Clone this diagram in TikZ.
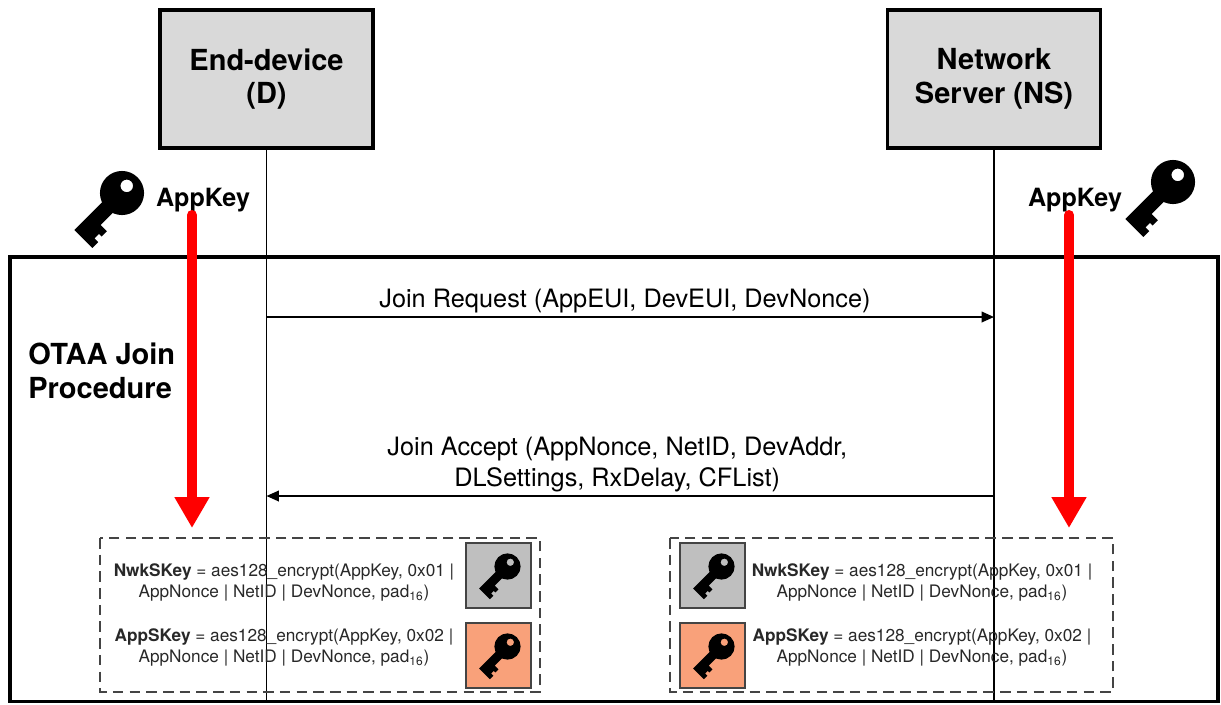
\documentclass[tikz,border=0pt]{standalone}
\usepackage{fontspec}
\setmainfont{TeX Gyre Heros}
\usetikzlibrary{arrows.meta,positioning}
\definecolor{boxgray}{RGB}{217,217,217}
\definecolor{keygray}{RGB}{191,191,191}
\definecolor{keyorange}{RGB}{249,161,122}
\definecolor{appred}{RGB}{255,0,0}
\definecolor{dashgray}{RGB}{68,68,68}
\definecolor{formulagray}{RGB}{40,40,40}
\tikzset{
    party/.style={draw,line width=2pt,fill=boxgray,minimum width=4.26cm,minimum height=2.76cm,
        align=center,font=\fontsize{16.5}{19}\selectfont\bfseries},
    lifeline/.style={line width=1pt},
    msg/.style={line width=1pt,-{Triangle[length=7pt,width=6pt]}},
    msglabel/.style={font=\fontsize{14.4}{17.5}\selectfont,align=center,inner sep=1pt},
    keyflow/.style={appred,line width=5.7pt,line cap=round,-{Triangle[length=17.6pt,width=18.8pt]}},
    keylabel/.style={font=\fontsize{14.3}{17}\selectfont\bfseries},
    derivebox/.style={draw=dashgray,line width=1.1pt,dash pattern=on 6pt off 3.5pt},
    formula/.style={font=\fontsize{9.8}{12}\selectfont,align=center,text=formulagray},
    keytile/.style={draw=dashgray,line width=1.1pt,minimum size=1.3cm,inner sep=0pt},
    keyglyph/.pic={
        \begin{scope}[rotate=45]
            \fill (-0.7,0.36) -- (-2.85,0.36) -- (-2.85,-0.85) -- (-2.45,-0.85) -- (-2.45,-0.6)
                -- (-2.15,-0.6) -- (-2.15,-0.78) -- (-1.8,-0.78) -- (-1.8,-0.36) -- (-0.7,-0.36) -- cycle;
            \fill[even odd rule] (0,0) circle (1.05) (0.4,0.08) circle (0.3);
        \end{scope}
    }
}
\begin{document}
\begin{tikzpicture}
        \useasboundingbox (0,0) rectangle (24.42,-14.08);
        %% parties
        \node[party] (dev) at (5.33,-1.58) {End-device\\(D)};
        \node[party] (ns) at (19.88,-1.58) {Network\\Server (NS)};
        \coordinate (dev-end) at (5.33,-14.03);
        \coordinate (ns-end) at (19.88,-14.03);
        %% procedure frame
        \draw[line width=2pt] (0.2,-5.14) rectangle (24.36,-14.03);
        \node[anchor=west,align=left,inner sep=0pt,font=\fontsize{16.5}{19}\selectfont\bfseries]
            (otaa) at (0.56,-7.42) {OTAA Join\\Procedure};
        %% lifelines
        \draw[lifeline] (dev.south) -- (dev-end);
        \draw[lifeline] (ns.south) -- (ns-end);
        %% messages
        \coordinate (req-dev) at (5.33,-6.34);
        \coordinate (req-ns) at (19.88,-6.34);
        \coordinate (acc-ns) at (19.88,-9.92);
        \coordinate (acc-dev) at (5.33,-9.92);
        \draw[msg] (req-dev) -- node[msglabel,above=1pt,xshift=-3pt] {Join Request (AppEUI, DevEUI, DevNonce)} (req-ns);
        \draw[msg] (acc-ns) -- node[msglabel,above=1pt,xshift=-0.26cm] {Join Accept (AppNonce, NetID, DevAddr,\\DLSettings, RxDelay, CFList)} (acc-dev);
        %% root keys
        \node[keylabel] (appkey-dev) at (4.06,-4.0) {AppKey};
        \node[keylabel] (appkey-ns) at (21.5,-4.0) {AppKey};
        \pic[scale=0.42] at (2.44,-3.86) {keyglyph};
        \pic[scale=0.42] at (23.46,-3.64) {keyglyph};
        %% session key derivation
        \draw[derivebox] (2.0,-10.76) rectangle (10.8,-13.84);
        \draw[derivebox] (13.4,-10.76) rectangle (22.26,-13.84);
        \foreach \x/\y/\col/\name in {9.97/-11.51/keygray/nwk-dev,9.97/-13.11/keyorange/app-dev,
                14.25/-11.51/keygray/nwk-ns,14.25/-13.11/keyorange/app-ns} {
            \node[keytile,fill=\col] (\name) at (\x,\y) {};
            \pic[scale=0.25] at ([shift={(0.18,0.18)}]\name.center) {keyglyph};
        }
        \foreach \x/\side in {5.68/dev,18.44/ns} {
            \node[formula] (nwk-\side-f) at (\x,-11.65) {\textbf{NwkSKey} = aes128\_encrypt(AppKey, 0x01 |\\AppNonce | NetID | DevNonce, pad\textsubscript{16})};
            \node[formula] (app-\side-f) at (\x,-12.95) {\textbf{AppSKey} = aes128\_encrypt(AppKey, 0x02 |\\AppNonce | NetID | DevNonce, pad\textsubscript{16})};
        }
        %% key flow
        \coordinate (flow-dev-top) at (3.84,-4.3);
        \coordinate (flow-dev-end) at (3.84,-10.56);
        \coordinate (flow-ns-top) at (21.38,-4.3);
        \coordinate (flow-ns-end) at (21.38,-10.56);
        \draw[keyflow] (flow-dev-top) -- (flow-dev-end);
        \draw[keyflow] (flow-ns-top) -- (flow-ns-end);
    \end{tikzpicture}
\end{document}
